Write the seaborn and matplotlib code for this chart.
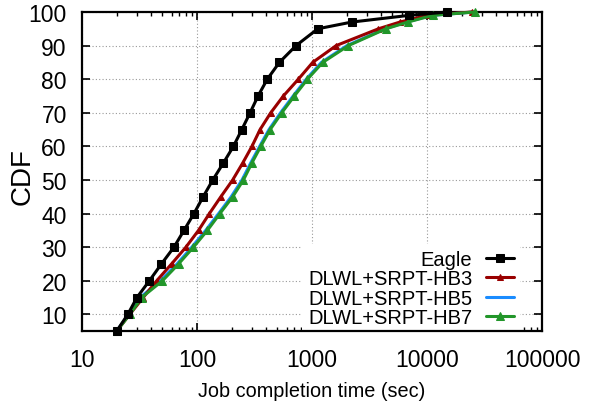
import matplotlib
matplotlib.use("Agg")
import matplotlib.pyplot as plt
import seaborn as sns
import pandas as pd
from matplotlib.ticker import LogLocator, FixedLocator, NullFormatter

cdf_levels = [5, 10, 15, 20, 25, 30, 35, 40, 45, 50, 55, 60, 65, 70, 75, 80, 85, 90, 95, 97, 99, 100]
eagle = [20, 25, 30, 38.5, 49, 63, 77, 94, 113, 137, 169, 207, 245, 289, 339, 408, 520, 726, 1122, 2210, 7000, 15000]
hb3 = [20, 26, 34, 44.6, 60, 80, 103, 128, 161, 204, 249, 300, 353, 437, 563, 760, 1013, 1620, 3780, 5800, 10000, 24500]
hb5 = [20, 25.5, 32, 48, 67, 90, 119, 154, 198, 246, 292, 350, 422, 532, 685, 890, 1205, 2010, 4300, 6600, 11000, 25500]
hb7 = [20, 26, 33, 50, 69, 93, 123, 158, 204, 253, 299, 358, 432, 545, 701, 912, 1238, 2070, 4390, 6800, 11200, 26100]

series_names = ["Eagle", "DLWL+SRPT-HB3", "DLWL+SRPT-HB5", "DLWL+SRPT-HB7"]
series_values = [eagle, hb3, hb5, hb7]
colors = ["#000000", "#990000", "#1a8cff", "#22962a"]
markers = ["s", "^", None, "^"]
msizes = [6, 4.5, 0, 6]

x_ticks = [10, 100, 1000, 10000, 100000]
x_ticklabels = ["10", "100", "1000", "10000", "100000"]
y_ticks = [10, 20, 30, 40, 50, 60, 70, 80, 90, 100]

sns.set_style("ticks")
plt.rcParams['font.family'] = ['Liberation Sans', 'DejaVu Sans']
plt.rcParams['text.color'] = 'black'
plt.rcParams['axes.labelcolor'] = 'black'

fig = plt.figure(figsize=(5.99, 4.06), dpi=100)
ax = fig.add_axes([0.137, 0.182, 0.768, 0.786])

zorders = {0: 5, 1: 4, 2: 3, 3: 4.5}
for i in [0, 2, 1, 3]:
    df = pd.DataFrame({"time": series_values[i], "cdf": cdf_levels})
    kw = dict(marker=markers[i], markersize=msizes[i]) if markers[i] else dict()
    sns.lineplot(data=df, x="time", y="cdf", ax=ax, color=colors[i], linewidth=2.2,
                 label=series_names[i], sort=False, estimator=None,
                 markeredgecolor=colors[i], clip_on=False, zorder=zorders[i], **kw)

ax.set_xscale("log")
ax.set_xlim(10, 100000)
ax.set_ylim(5, 100)
ax.xaxis.set_major_locator(FixedLocator(x_ticks))
ax.set_xticklabels(x_ticklabels)
ax.xaxis.set_minor_locator(LogLocator(base=10, subs=range(2, 10), numticks=20))
ax.xaxis.set_minor_formatter(NullFormatter())
ax.yaxis.set_major_locator(FixedLocator(y_ticks))
ax.tick_params(axis="both", which="major", direction="in", length=6, width=1.2,
               top=True, right=True, labelsize=16.5, colors="black")
ax.tick_params(axis="x", which="major", pad=12)
ax.tick_params(axis="y", which="major", pad=11)
ax.tick_params(axis="x", which="minor", direction="in", length=3, width=1.0, top=True, colors="black")
ax.grid(True, which="major", linestyle=(0, (1, 2)), color="#999999", linewidth=0.8)
for s in ax.spines.values():
    s.set_linewidth(1.6)
    s.set_visible(True)
    s.set_color("black")

ax.set_xlabel("Job completion time (sec)", fontsize=14.3, color="black")
ax.set_ylabel("CDF", fontsize=20, color="black")
ax.xaxis.set_label_coords(0.499, -0.157)
ax.yaxis.set_label_coords(-0.102, 0.487)

handles, labels = ax.get_legend_handles_labels()
hmap = dict(zip(labels, handles))
leg = ax.legend([hmap[n] for n in series_names], series_names, loc="lower right",
                frameon=True, facecolor="white", edgecolor="none", framealpha=1.0,
                fancybox=False, markerfirst=False, fontsize=14.5, handlelength=1.4,
                labelspacing=0.02, borderaxespad=0.0, borderpad=0.3, handletextpad=0.7,
                bbox_to_anchor=(0.953, -0.006))
leg.set_zorder(2.4)
for t in leg.get_texts():
    t.set_color("black")

fig.savefig("out.png", dpi=100)
